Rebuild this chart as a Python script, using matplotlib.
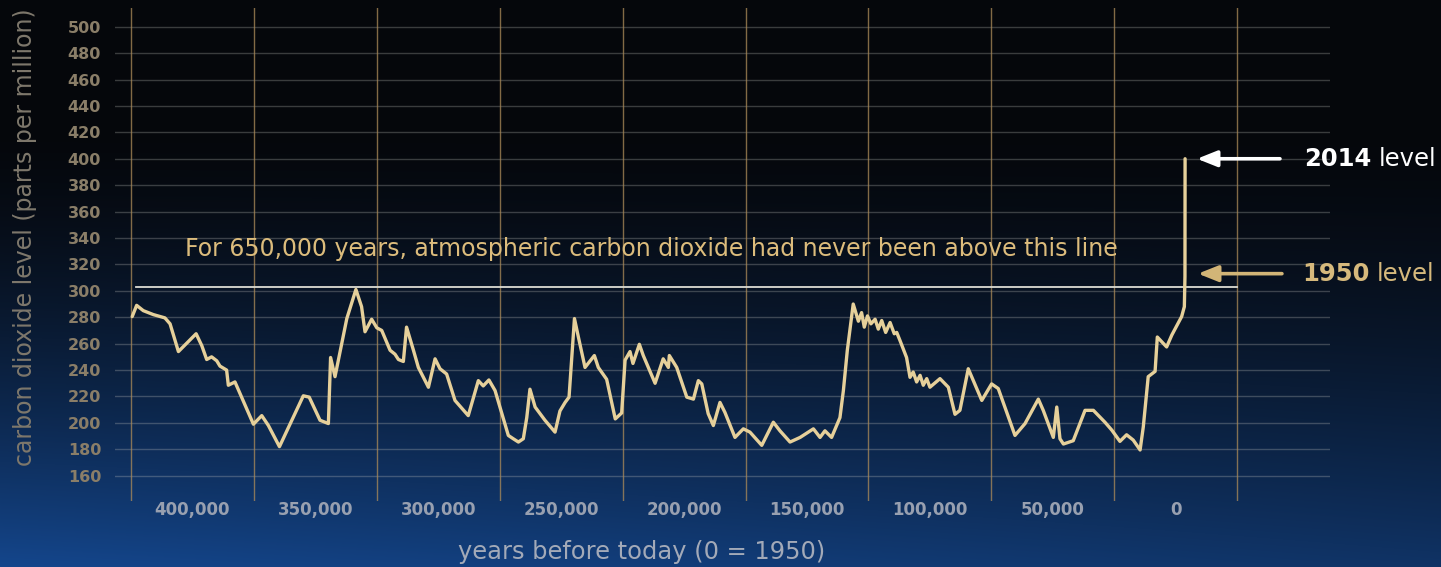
import numpy as np
import matplotlib
matplotlib.use("Agg")
import matplotlib.pyplot as plt

# ---- data: atmospheric CO2 (ppm) against years before 1950 ----
years_bp = [
    424500, 422700, 420000, 415900, 411200, 409100, 405700, 398500, 396200, 394200,
    392200, 390100, 388800, 386100, 385400, 382700, 380000, 375200, 371800, 369100,
    364600, 360300, 354900, 352500, 348100, 344700, 343800, 342000, 337200, 333500,
    331200, 329800, 327100, 325000, 323000, 319600, 317600, 316200, 314200, 312900,
    310100, 308100, 304000, 301300, 299300, 296600, 293200, 287800, 283700, 281700,
    279400, 276900, 271500, 269500, 267400, 265400, 264000, 262700, 260600, 256600,
    252500, 250500, 248400, 246800, 244600, 243000, 240300, 236500, 234900, 231500,
    228000, 225400, 224000, 222000, 220800, 218200, 216600, 211800, 208500, 206400,
    206000, 203000, 198900, 196200, 194200, 192800, 190200, 188100, 185400, 183400,
    179300, 175900, 173200, 168400, 163700, 161000, 156900, 152800, 147400, 144700,
    142700, 140000, 136600, 135200, 133600, 131200, 129100, 127800, 126700, 125400,
    124000, 122300, 121000, 119600, 118000, 116200, 114500, 113500, 112200, 109500,
    108100, 106800, 105400, 104000, 102700, 101300, 100000, 95900, 92500, 89800,
    87800, 84400, 78900, 74900, 72200, 65400, 61300, 55900, 53900, 49800,
    48400, 47100, 45700, 41700, 36900, 33500, 28800, 26000, 22700, 20000,
    17300, 14500, 13200, 11200, 8400, 7500, 3700, 1600, -2400, -3500,
    -3750, -3800,
]
co2_ppm = [
    280.5, 289, 285, 282, 279.5, 275, 254, 267.5, 258.5, 248,
    250, 247, 243, 240, 228.5, 231, 219.5, 199, 205.5, 198,
    182, 199, 220.5, 219.5, 202, 199.5, 249.5, 235, 279, 301,
    288, 269, 278.5, 272, 270, 255, 252, 248, 246.5, 272.5,
    255, 242, 227, 248.5, 241, 237, 217, 205.5, 232, 228,
    232.5, 224.5, 190.5, 188, 185.5, 188, 204, 225.5, 212, 202,
    193, 209, 215.5, 219.5, 279, 265, 242, 251, 242, 233,
    203, 207.5, 247.5, 254, 245, 259.5, 251, 230, 248.5, 242,
    251, 242, 219.5, 218, 232, 229.5, 207, 198, 215.5, 208,
    189, 195.5, 193, 183, 200.5, 194, 185.5, 189, 195.5, 189,
    194, 189, 204, 224.5, 255, 290, 277, 283.5, 272.5, 281,
    275, 278.5, 271, 277.5, 268.5, 276, 267.5, 268.5, 262.5, 249.5,
    234.5, 238.5, 231, 236, 228.5, 233.5, 227, 233.5, 227, 206.5,
    209.5, 241, 217, 229.5, 226, 190.5, 199.5, 218, 209.5, 189,
    212, 188, 184, 186.5, 209.5, 209.5, 200.5, 194.5, 186, 191,
    187, 179.5, 197, 235, 239, 265, 257.5, 266.5, 280.5, 288,
    311, 400,
]

ppm_ticks = list(range(160, 501, 20))
year_ticks = [400000, 350000, 300000, 250000, 200000, 150000, 100000, 50000, 0]
year_labels = ["400,000", "350,000", "300,000", "250,000", "200,000",
               "150,000", "100,000", "50,000", "0"]
grid_years = [425000 - 50000 * k for k in range(10)]

record_ceiling = 302.7          # highest pre-industrial level line
level_2014 = 400
level_1950 = 313

# ---- figure & background ----
W, H = 1441, 567
fig = plt.figure(figsize=(W / 100, H / 100), dpi=100)

bg = fig.add_axes([0, 0, 1, 1], zorder=-10)
yy, xx = np.mgrid[0:H, 0:W]
yy = yy / (H - 1)
xx = xx / (W - 1)
t = np.clip((yy - 0.22) / 0.78, 0, 1) ** 1.5
lateral = 1.0 - 0.3 * xx
top = np.array([5, 7, 11]) / 255
bottom = np.array([20, 70, 140]) / 255
rgb = top + (bottom - top) * (t * lateral)[..., None]
bg.imshow(rgb, aspect="auto", interpolation="bilinear")
bg.axis("off")

# ---- main axes ----
ax = fig.add_axes([115 / W, 1 - 501 / H, (1330 - 115) / W, (501 - 8) / H])
ax.set_facecolor("none")
ax.set_xlim(431500, -62750)
ax.set_ylim(140.85, 514.16)
for s in ax.spines.values():
    s.set_visible(False)

for v in ppm_ticks:
    ax.axhline(v, color=(0.78, 0.78, 0.76, 0.28), lw=1.0, zorder=1)
for g in grid_years:
    ax.axvline(g, color=(0.68, 0.55, 0.35, 0.75), lw=1.0, zorder=1)

ax.set_yticks(ppm_ticks)
ax.set_yticklabels([str(v) for v in ppm_ticks])
ax.set_xticks(year_ticks)
ax.set_xticklabels(year_labels)
ax.tick_params(axis="y", length=0, pad=10, labelsize=11.5, labelcolor="#8a7e68")
ax.tick_params(axis="x", length=0, pad=0, labelsize=12, labelcolor="#98a0b0")
for lab in ax.get_yticklabels():
    lab.set_fontweight("bold")
for lab in ax.get_xticklabels():
    lab.set_fontweight("bold")

# ceiling line and its caption
ax.plot([423000, -25000], [record_ceiling, record_ceiling],
        color="#dcdcd4", lw=1.3, zorder=3)
ax.text(403000, 331.7,
        "For 650,000 years, atmospheric carbon dioxide had never been above this line",
        color="#dcbc7c", fontsize=17, ha="left", va="center", zorder=4)

# CO2 record
ax.plot(years_bp, co2_ppm, color="#e6d09a", lw=2.4, zorder=5,
        solid_joinstyle="round", solid_capstyle="round")

# level arrows and labels
arrow_style = "-|>,head_length=0.55,head_width=0.22"
ax.annotate("", xy=(-8650, level_2014), xytext=(-42400, level_2014),
            arrowprops=dict(arrowstyle=arrow_style, color="white", lw=2.6,
                            mutation_scale=22, shrinkA=0, shrinkB=0),
            annotation_clip=False)
ax.annotate("", xy=(-9060, level_1950), xytext=(-43200, level_1950),
            arrowprops=dict(arrowstyle=arrow_style, color="#d2b577", lw=2.6,
                            mutation_scale=22, shrinkA=0, shrinkB=0),
            annotation_clip=False)

t1 = ax.text(-52200, level_2014, "2014", color="white", fontsize=17.5,
             fontweight="bold", ha="left", va="center")
ax.annotate("level", xy=(1, 0), xycoords=t1, xytext=(5.5, 0),
            textcoords="offset points", color="white", fontsize=17.5,
            ha="left", va="bottom")
t2 = ax.text(-51400, level_1950 - 0.5, "1950", color="#d6b97c", fontsize=17.5,
             fontweight="bold", ha="left", va="center")
ax.annotate("level", xy=(1, 0), xycoords=t2, xytext=(5.5, 0),
            textcoords="offset points", color="#d6b97c", fontsize=17.5,
            ha="left", va="bottom")

# axis titles
fig.text(25 / W, 1 - 237 / H, "carbon dioxide level (parts per million)",
         rotation=90, ha="center", va="center", fontsize=17, color="#7e786c")
fig.text(642 / W, 1 - 552 / H, "years before today (0 = 1950)",
         ha="center", va="center", fontsize=17.4, color="#a3aab8")

fig.savefig("out.png", dpi=100)
